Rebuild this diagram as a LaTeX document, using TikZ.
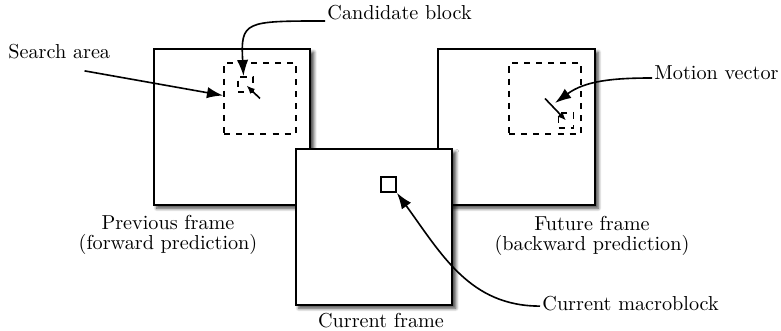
\documentclass[tikz,border=0pt]{standalone}
\usetikzlibrary{arrows.meta,shadows.blur}
\begin{document}
\begin{tikzpicture}[x=0.495pt,y=-0.495pt,
  frame/.style={draw, line width=1pt, fill=white, inner sep=0pt,
    minimum width=77.7pt, minimum height=77.2pt,
    blur shadow={shadow xshift=1.6pt, shadow yshift=-1.6pt,
      shadow blur radius=1.6pt, shadow blur steps=6, shadow opacity=75}},
  searcharea/.style={draw, dashed, line width=0.9pt, inner sep=0pt,
    minimum width=35.6pt, minimum height=35.1pt},
  block/.style={draw, line width=0.9pt, inner sep=0pt, minimum size=7.4pt},
  label/.style={inner sep=1pt},
  pointer/.style={line width=0.8pt, -{Latex[length=8pt,width=5.6pt]}},
  vec/.style={line width=0.8pt, -{Latex[length=4.2pt,width=3.4pt]}}
]
\useasboundingbox (0,0) rectangle (781,331);

% previous frame with its search area and candidate block
\node[frame] (prev) at (232,127) {};
\node[searcharea] (prevsa) at (260,98.5) {};
\node[block, dashed] (prevcb) at (245.5,84.5) {};
\draw[vec] (prevsa.center) -- ([shift={(1,1)}]prevcb.center);

% future frame with its search area and candidate block
\node[frame] (fut) at (516.5,127) {};
\node[searcharea] (futsa) at (545,98.5) {};
\node[block, dashed] (futcb) at (566,120.5) {};
\draw[vec] (futsa.center) -- (futcb.center);

% current frame on top, with the macroblock being coded
\node[frame] (cur) at (374,227) {};
\node[block] (curmb) at (388.5,184.5) {};

% labels
\node[label, anchor=base west] (salbl) at (6,59) {Search area};
\node[label, anchor=base west] (cblbl) at (325,20) {Candidate block};
\node[label, anchor=base west] (mvlbl) at (652,80) {Motion vector};
\node[label, anchor=base west] (cmlbl) at (540,311) {Current macroblock};
\node[label, align=center, anchor=north] (prevlbl) at (168,213)
  {Previous frame\\[-2pt](forward prediction)};
\node[label, align=center, anchor=north] (futlbl) at (592,214)
  {Future frame\\[-2pt](backward prediction)};
\node[label, anchor=base] (curlbl) at (381,327) {Current frame};

% pointers from labels
\coordinate (mvtip) at (555,103);
\draw[pointer] ([shift={(-28,9)}]salbl.south east) -- ([shift={(0,-3)}]prevsa.west);
\draw[pointer] ([shift={(0,1)}]cblbl.base west)
  .. controls +(-80,0) and +(-3,-55) .. ([shift={(-2,0)}]prevcb.north);
\draw[pointer] ([shift={(0,-2)}]mvlbl.base west)
  .. controls +(-40,0) and +(30,-22) .. (mvtip);
\draw[pointer] ([shift={(0,2)}]cmlbl.west)
  .. controls +(-70,0) and +(45,62) .. (curmb.south east);
\end{tikzpicture}
\end{document}
